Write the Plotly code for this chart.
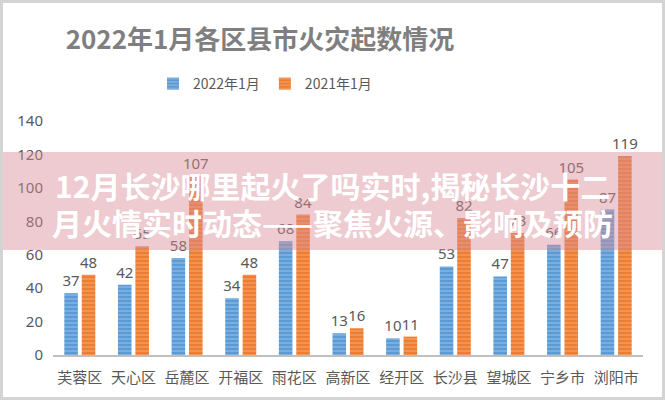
import plotly.graph_objects as go

categories = ["芙蓉区", "天心区", "岳麓区", "开福区", "雨花区", "高新区", "经开区", "长沙县", "望城区", "宁乡市", "浏阳市"]
values_2022 = [37, 42, 58, 34, 68, 13, 10, 53, 47, 66, 87]
values_2021 = [48, 65, 107, 48, 84, 16, 11, 82, 73, 105, 119]
series_names = ["2022年1月", "2021年1月"]
title_text = "2022年1月各区县市火灾起数情况"
overlay_line1 = "12月长沙哪里起火了吗实时,揭秘长沙十二"
overlay_line2 = "月火情实时动态——聚焦火源、影响及预防"

W, H = 665, 400
L, R, T, B = 53, 22, 121, 45
pw, ph = W - L - R, H - T - B

def px_x(x):
    return (x - L) / pw

def px_y(y):
    return (H - B - y) / ph

fig = go.Figure()
for name, vals, col, fg in [
    (series_names[0], values_2022, "#5b9bd5", "#a9cbe9"),
    (series_names[1], values_2021, "#ed7d31", "#f5b58a"),
]:
    fig.add_trace(go.Bar(
        x=categories, y=vals, name=name,
        marker=dict(color=col, line=dict(width=0),
                    pattern=dict(shape="-", fgcolor=fg, size=4, solidity=0.4)),
        text=[str(v) for v in vals], textposition="outside",
        constraintext="none",
        textfont=dict(family="Noto Sans, Lato, sans-serif", size=15, color="#595959"),
        cliponaxis=False,
    ))

fig.update_layout(
    width=W, height=H,
    margin=dict(l=L, r=R, t=T, b=B),
    paper_bgcolor="white", plot_bgcolor="white",
    barmode="group", bargap=0.35, bargroupgap=0.22,
    title=dict(text="<b>" + title_text + "</b>", xref="container", yref="container",
               x=260 / W, xanchor="center", y=1 - 40 / H, yanchor="middle",
               font=dict(family="Noto Sans CJK SC", size=26, color="#7f7f7f")),
    legend=dict(orientation="h", x=px_x(265), xanchor="center", y=px_y(84), yanchor="middle",
                font=dict(family="Noto Sans CJK SC", size=14, color="#595959"),
                bgcolor="rgba(0,0,0,0)", itemwidth=30, traceorder="normal"),
    showlegend=True,
)
fig.update_yaxes(range=[0, 140], dtick=20, showgrid=False, zeroline=False, showline=False,
                 tickfont=dict(family="Noto Sans, Lato, sans-serif", size=15, color="#595959"),
                 ticks="outside", ticklen=6, tickcolor="rgba(0,0,0,0)")
fig.update_xaxes(showgrid=False, showline=True, linecolor="#bfbfbf", linewidth=2,
                 tickfont=dict(family="Noto Sans CJK SC", size=15, color="#595959"),
                 ticks="outside", ticklen=8, tickcolor="rgba(0,0,0,0)")

# overlay band
fig.add_shape(type="rect", xref="paper", yref="paper",
              x0=px_x(0), x1=px_x(W), y0=px_y(250), y1=px_y(152),
              fillcolor="rgba(215,140,150,0.45)", line=dict(width=0), layer="above")
for txt, yy in [(overlay_line1, 185), (overlay_line2, 222)]:
    fig.add_annotation(text="<b>" + txt + "</b>", xref="paper", yref="paper",
                       x=px_x(332), y=px_y(yy), xanchor="center", yanchor="middle",
                       showarrow=False,
                       font=dict(family="Noto Sans CJK SC", size=30, color="white"))

# outer frame
fig.add_shape(type="rect", xref="paper", yref="paper",
              x0=px_x(1.5), x1=px_x(W - 1.5), y0=px_y(H - 1.5), y1=px_y(1.5),
              line=dict(color="#d4d4d4", width=3), fillcolor="rgba(0,0,0,0)", layer="above")

fig.write_html("out.html")
